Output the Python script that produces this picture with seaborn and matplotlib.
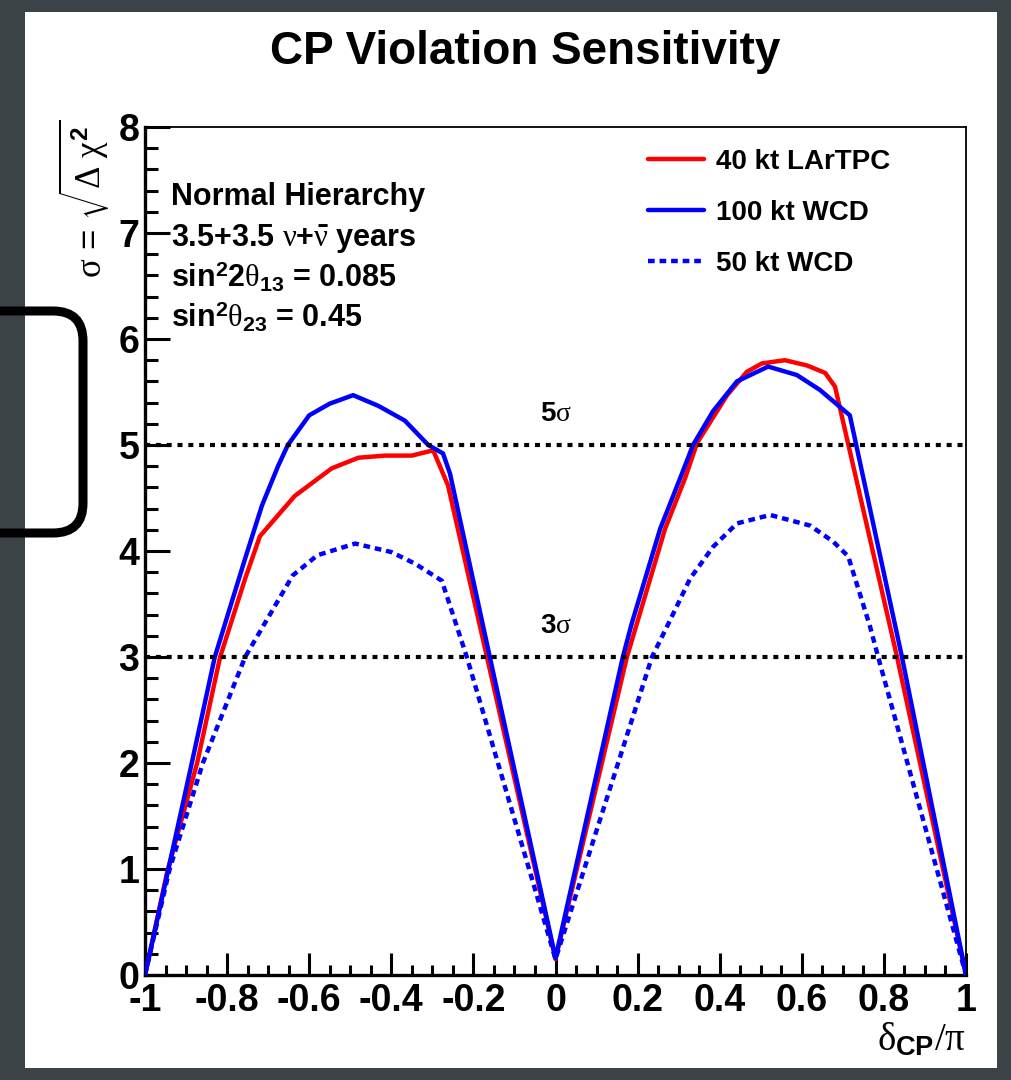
import numpy as np
import pandas as pd
import matplotlib
matplotlib.use('Agg')
import matplotlib.pyplot as plt
import seaborn as sns
from matplotlib.patches import Rectangle, FancyBboxPatch
from matplotlib.transforms import IdentityTransform
from matplotlib.ticker import MultipleLocator, FuncFormatter

# ---------------- data ----------------
red_x = [-1.0, -0.946, -0.873, -0.817, -0.756, -0.72, -0.635, -0.545, -0.48, -0.415, -0.35,
         -0.298, -0.262, -0.167, 0.0, 0.174, 0.194, 0.267, 0.315, 0.345, 0.418, 0.466, 0.503,
         0.559, 0.613, 0.657, 0.681, 0.832, 1.0]
red_y = [0.0, 0.97, 2.0, 3.0, 3.74, 4.14, 4.52, 4.78, 4.88, 4.90, 4.90,
         4.95, 4.62, 3.0, 0.15, 3.0, 3.26, 4.21, 4.68, 5.02, 5.47, 5.69, 5.77,
         5.80, 5.75, 5.68, 5.55, 3.0, 0.0]

blue_x = [-1.0, -0.943, -0.886, -0.83, -0.756, -0.715, -0.676, -0.652, -0.6, -0.55, -0.493,
          -0.432, -0.367, -0.31, -0.274, -0.257, -0.16, 0.0, 0.164, 0.186, 0.255, 0.303,
          0.335, 0.384, 0.442, 0.518, 0.588, 0.644, 0.717, 0.844, 1.0]
blue_y = [0.0, 1.0, 2.0, 3.0, 3.93, 4.43, 4.80, 5.0, 5.28, 5.39, 5.47,
          5.37, 5.23, 5.0, 4.92, 4.73, 3.0, 0.16, 3.0, 3.32, 4.21, 4.68,
          5.0, 5.32, 5.60, 5.74, 5.66, 5.52, 5.28, 3.0, 0.0]

dot_x = [-1.0, -0.94, -0.859, -0.756, -0.64, -0.58, -0.488, -0.40, -0.342, -0.277, -0.216,
         0.0, 0.235, 0.272, 0.328, 0.384, 0.442, 0.523, 0.62, 0.676, 0.713, 0.766, 0.786, 1.0]
dot_y = [0.0, 1.0, 2.0, 3.0, 3.77, 3.96, 4.07, 3.99, 3.88, 3.72, 3.0,
         0.15, 3.0, 3.29, 3.74, 4.04, 4.26, 4.34, 4.24, 4.09, 3.95, 3.29, 3.0, 0.0]

series_labels = ['40 kt LArTPC', '100 kt WCD', '50 kt WCD']
sigma_levels = [5, 3]
sigma_texts = [r'5$\sigma$', r'3$\sigma$']
info_lines = ['Normal Hierarchy',
              r'3.5+3.5 $\nu$+$\bar{\nu}$ years',
              r'sin$^{2}$2$\theta_{13}$ = 0.085',
              r'sin$^{2}$$\theta_{23}$ = 0.45']

# ---------------- style ----------------
sns.set_theme(style='white')
plt.rcParams['font.family'] = ['Liberation Sans', 'DejaVu Sans']
plt.rcParams['font.weight'] = 'bold'
plt.rcParams['text.color'] = 'black'
plt.rcParams['axes.labelcolor'] = 'black'
plt.rcParams['axes.unicode_minus'] = False
plt.rcParams['mathtext.fontset'] = 'custom'
plt.rcParams['mathtext.rm'] = 'Liberation Sans:bold'
plt.rcParams['mathtext.bf'] = 'Liberation Sans:bold'
plt.rcParams['mathtext.sf'] = 'Liberation Serif:weight=normal'
plt.rcParams['mathtext.it'] = 'Liberation Serif:weight=normal'

W, H = 1011, 1080
fig = plt.figure(figsize=(W / 100, H / 100), dpi=100, facecolor='#3c4347')


def fx(x):
    return x / W


def fy(y):
    return 1 - y / H


# white slide panel
fig.patches.append(Rectangle((fx(25), fy(1068)), fx(997) - fx(25), fy(12) - fy(1068),
                             transform=fig.transFigure, facecolor='white',
                             edgecolor='none', zorder=-3))
# black rounded bracket on the left
fig.patches.append(FancyBboxPatch((-60, H - 533), 143, 222,
                                  boxstyle='round,pad=0,rounding_size=30',
                                  transform=IdentityTransform(), facecolor='none',
                                  edgecolor='black', linewidth=6.5, zorder=-2))

AX_L, AX_R, AX_T, AX_B = 145, 966, 127, 975
ax = fig.add_axes([fx(AX_L), fy(AX_B), (AX_R - AX_L) / W, (AX_B - AX_T) / H])
ax.set_facecolor('white')
ax.set_zorder(2)


def axx(px):
    return (px - AX_L) / (AX_R - AX_L)


def axy(py):
    return (AX_B - py) / (AX_B - AX_T)


LW = 3.2
sns.lineplot(x=red_x, y=red_y, ax=ax, color='#ff0000', lw=LW, sort=False,
             estimator=None, label=series_labels[0], zorder=4)
sns.lineplot(x=blue_x, y=blue_y, ax=ax, color='#0000ff', lw=LW, sort=False,
             estimator=None, label=series_labels[1], zorder=4)
sns.lineplot(x=dot_x, y=dot_y, ax=ax, color='#0000ff', lw=LW, sort=False,
             estimator=None, label=series_labels[2], zorder=4)
ax.lines[2].set_linestyle((0, (1.5, 1.1)))

for lev in sigma_levels:
    ax.axhline(lev, color='black', lw=3.0, linestyle=(0, (1.2, 1.4)), zorder=5)
for lev, txt in zip(sigma_levels, sigma_texts):
    ax.text(0.0, lev + 0.29, txt, ha='center', va='center', fontsize=20,
            fontweight='bold', color='black')

ax.set_xlim(-1, 1)
ax.set_ylim(0, 8)
ax.xaxis.set_major_locator(MultipleLocator(0.2))
ax.xaxis.set_minor_locator(MultipleLocator(0.05))
ax.yaxis.set_major_locator(MultipleLocator(1))
ax.yaxis.set_minor_locator(MultipleLocator(0.2))
ax.xaxis.set_major_formatter(FuncFormatter(lambda v, p: '%g' % round(v, 2)))
ax.yaxis.set_major_formatter(FuncFormatter(lambda v, p: '%g' % v))

ax.tick_params(axis='both', which='both', direction='in', top=False, right=False,
               bottom=True, left=True, colors='black', labelcolor='black', width=2.2)
ax.tick_params(axis='y', which='major', length=18, labelsize=27, pad=4)
ax.tick_params(axis='y', which='minor', length=9)
ax.tick_params(axis='x', which='major', length=16, labelsize=27, pad=6)
ax.tick_params(axis='x', which='minor', length=7.5)
for lab in ax.get_xticklabels() + ax.get_yticklabels():
    lab.set_fontweight('bold')

for s in ['left', 'bottom']:
    ax.spines[s].set_linewidth(2.4)
    ax.spines[s].set_color('black')
for s in ['top', 'right']:
    ax.spines[s].set_linewidth(1.3)
    ax.spines[s].set_color('black')

# axis titles
ax.set_xlabel(r'$\delta_{\mathrm{CP}}\mathsf{/}\pi$', fontsize=28, color='black')
ax.xaxis.label.set_ha('right')
ax.xaxis.label.set_va('baseline')
ax.xaxis.set_label_coords(1.0, axy(1050))

ax.set_ylabel(r'$\sigma$ = $\sqrt{\mathsf{\Delta}\ \chi^{2}}$', fontsize=25, color='black')
ax.yaxis.label.set_ha('right')
ax.yaxis.label.set_va('baseline')
ax.yaxis.set_label_coords(axx(102), axy(120))

# title
fig.text(fx(525), fy(52), 'CP Violation Sensitivity', ha='center', va='center',
         fontsize=33, fontweight='bold',
         family=['Liberation Sans Narrow', 'Liberation Sans'], color='black')

# info text
for yb, line in zip([205, 246, 287, 327], info_lines):
    ax.text(axx(171), axy(yb), line, transform=ax.transAxes, ha='left', va='baseline',
            fontsize=22, fontweight='bold', color='black')

leg = ax.legend(loc='upper left', bbox_to_anchor=(axx(648), axy(149)), frameon=False,
                fontsize=20, handlelength=2.0, handletextpad=0.45, labelspacing=0.9,
                borderpad=0, borderaxespad=0)
for t in leg.get_texts():
    t.set_fontweight('bold')
    t.set_color('black')

fig.savefig('out.png', dpi=100, facecolor=fig.get_facecolor())
